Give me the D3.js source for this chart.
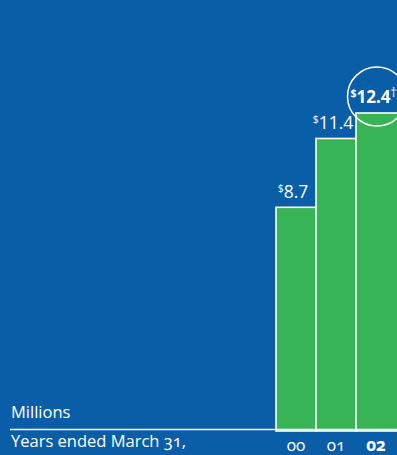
<!DOCTYPE html>
<html>
<head>
<meta charset="utf-8">
<script src="https://cdn.jsdelivr.net/npm/d3@7"></script>
<style>
  html, body { margin: 0; padding: 0; background: #0a5ea8; }
  svg { display: block; }
  text { font-family: "Open Sans", "Lato", sans-serif; fill: #ffffff; }
  .onum { font-variant-numeric: oldstyle-nums; font-feature-settings: "onum" 1; }
</style>
</head>
<body>
<svg id="chart" width="397" height="455"></svg>
<script>
const years = ["00", "01", "02"];
const revenue = [8.7, 11.4, 12.4];
const valueLabels = ["8.7", "11.4", "12.4"];
const unitLabel = "Millions";
const axisTitle = "Years ended March 31,";

const W = 397, H = 455;
const svg = d3.select("#chart");
svg.append("rect").attr("width", W).attr("height", H).attr("fill", "#0a5ea8");

const x = d3.scaleBand().domain(years).range([276, 396]).padding(0);
const y = d3.scaleLinear().domain([0, d3.max(revenue)]).range([429, 113]);

const data = years.map((yr, i) => ({ yr, v: revenue[i], label: valueLabels[i], i }));

// bars
svg.append("g").selectAll("rect").data(data).join("rect")
  .attr("x", d => x(d.yr))
  .attr("y", d => y(d.v))
  .attr("width", d => x.bandwidth() + (d.i === years.length - 1 ? 4 : 0))
  .attr("height", d => y(0) - y(d.v) + 2)
  .attr("fill", "#37b556")
  .attr("stroke", "#ffffff")
  .attr("stroke-width", 1.6);

// baseline
svg.append("line")
  .attr("x1", 10).attr("x2", W)
  .attr("y1", y(0) + 0.5).attr("y2", y(0) + 0.5)
  .attr("stroke", "#ffffff").attr("stroke-width", 1.6);

// value labels
const last = data[data.length - 1];
data.forEach(d => {
  const isLast = d.i === years.length - 1;
  const t = svg.append("text")
    .attr("x", x(d.yr) + x.bandwidth() / 2 + (isLast ? -2.5 : -3))
    .attr("y", y(d.v) - (isLast ? 10 : 9))
    .attr("text-anchor", "middle")
    .style("font-size", isLast ? "17px" : "17.5px")
    .style("font-weight", isLast ? 700 : 400);
  t.append("tspan").text("$").style("font-size", "10.5px").attr("dy", "-6");
  t.append("tspan").text(d.label).attr("dy", "6");
  if (isLast) {
    t.append("tspan").text("†").style("font-size", "12px").style("font-weight", 400).attr("dy", "-6");
  }
});

// circle around last label
svg.append("circle")
  .attr("cx", x(last.yr) + x.bandwidth() / 2 + 1)
  .attr("cy", y(last.v) - 16.5)
  .attr("r", 29.5)
  .attr("fill", "none")
  .attr("stroke", "#ffffff")
  .attr("stroke-width", 1.5);

// axis tick labels
const xAxis = d3.axisBottom(x).tickSize(0).tickPadding(0);
const gx = svg.append("g").attr("transform", `translate(0, ${y(0)})`).call(xAxis);
gx.select(".domain").remove();
gx.selectAll("text")
  .attr("class", "onum")
  .attr("y", 22)
  .attr("dy", 0)
  .style("font-size", "17px")
  .style("font-weight", (d, i) => i === years.length - 1 ? 700 : 400)
  .attr("fill", "#ffffff");

// texts
svg.append("text").attr("x", 11).attr("y", 418).text(unitLabel).style("font-size", "16.5px");
svg.append("text").attr("class", "onum").attr("x", 11).attr("y", 447).text(axisTitle).style("font-size", "16.5px");
</script>
</body>
</html>
